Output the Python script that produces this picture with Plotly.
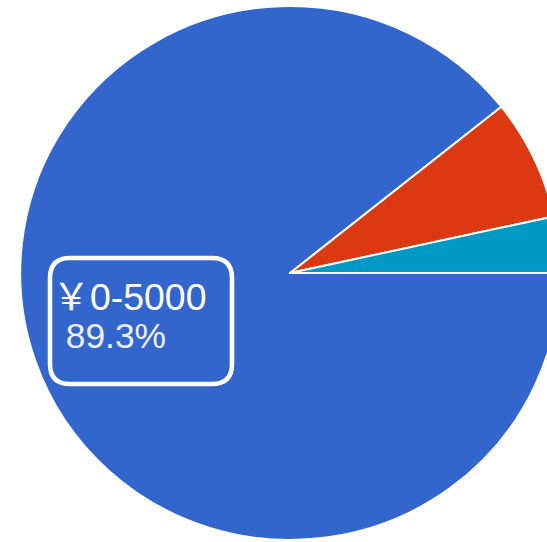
import plotly.graph_objects as go

labels = ["￥0-5000", "￥5000-10000", "￥10000以上"]
values = [89.3, 7.3, 3.4]
colors = ["#3366CC", "#DC3912", "#0099C6"]

# the reference pie is slightly wider than tall
SX = 1.011
W, H = 574, 547
ML, MR, MT, MB = 0, 0, 6, 7
PW, PH = W - ML - MR, H - MT - MB


def px(x):
    return (x / SX - ML) / PW


def py(y):
    return 1 - (y - MT) / PH


fig = go.Figure(go.Pie(
    labels=labels,
    values=values,
    marker=dict(colors=colors, line=dict(color="white", width=2)),
    sort=False,
    direction="clockwise",
    rotation=90,
    textinfo="none",
    hoverinfo="label+percent",
    showlegend=False,
))

# rounded label box
x0, x1, y0, y1, r = 50, 232, 258, 384, 20
path = (
    f"M {px(x0 + r)},{py(y0)} L {px(x1 - r)},{py(y0)} "
    f"Q {px(x1)},{py(y0)} {px(x1)},{py(y0 + r)} "
    f"L {px(x1)},{py(y1 - r)} Q {px(x1)},{py(y1)} {px(x1 - r)},{py(y1)} "
    f"L {px(x0 + r)},{py(y1)} Q {px(x0)},{py(y1)} {px(x0)},{py(y1 - r)} "
    f"L {px(x0)},{py(y0 + r)} Q {px(x0)},{py(y0)} {px(x0 + r)},{py(y0)} Z"
)
fig.add_shape(type="path", path=path, xref="paper", yref="paper",
              line=dict(color="white", width=4.5))

total = sum(values)
fig.add_annotation(x=px(51), y=py(297), xref="paper", yref="paper",
                   xanchor="left", yanchor="middle", showarrow=False,
                   text=labels[0],
                   font=dict(family="Liberation Sans, Arial, Noto Sans CJK SC", size=37, color="white"))
fig.add_annotation(x=px(64), y=py(335), xref="paper", yref="paper",
                   xanchor="left", yanchor="middle", showarrow=False,
                   text=f"{values[0] / total * 100:.1f}%",
                   font=dict(family="Liberation Sans, Arial", size=35, color="#eceff8"))

fig.update_layout(
    width=W, height=H, autosize=False,
    margin=dict(l=ML, r=MR, t=MT, b=MB),
    paper_bgcolor="white", plot_bgcolor="white",
)

post = (
    "document.body.style.margin='0';"
    "document.body.style.overflow='hidden';"
    "var d=document.querySelector('.plotly-graph-div');"
    f"d.style.transformOrigin='0 0';d.style.transform='scale({SX},1)';"
)
fig.write_html("out.html", config={"displayModeBar": False}, post_script=post)
